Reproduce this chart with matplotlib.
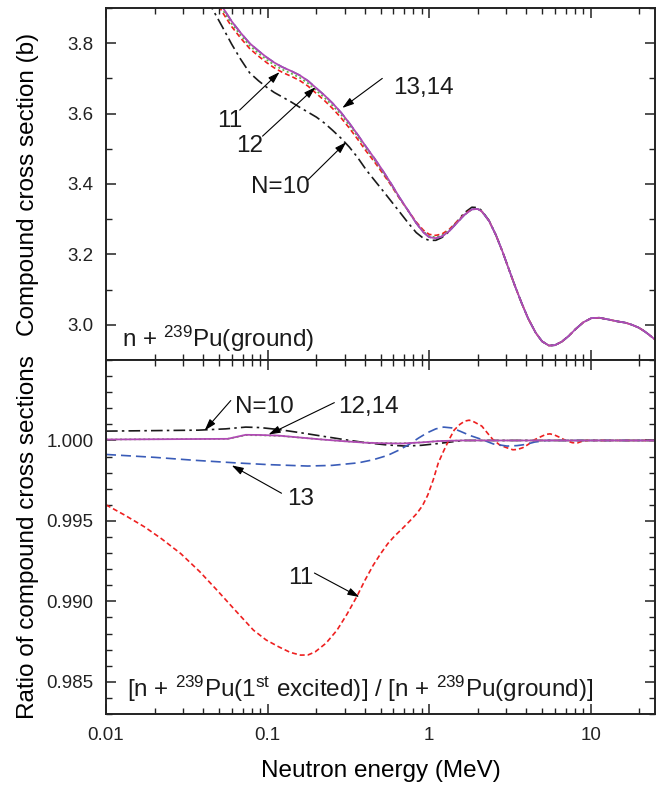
import matplotlib
matplotlib.use("Agg")
import matplotlib.pyplot as plt
from matplotlib.ticker import FixedLocator, MultipleLocator, FormatStrFormatter, NullFormatter, LogLocator
import numpy as np

plt.rcParams['font.family'] = ['Liberation Sans', 'DejaVu Sans']
plt.rcParams['mathtext.fontset'] = 'custom'
plt.rcParams['mathtext.rm'] = 'Liberation Sans'
plt.rcParams['mathtext.it'] = 'Liberation Sans:italic'
plt.rcParams['mathtext.bf'] = 'Liberation Sans:bold'

# ---------------- data: top panel (compound cross section, b) ----------------
E_top = [0.045, 0.0527, 0.060, 0.068, 0.0774, 0.088, 0.0986, 0.11, 0.1236, 0.14,
         0.158, 0.178, 0.2006, 0.225, 0.252, 0.285, 0.3205, 0.36, 0.408, 0.46,
         0.513, 0.58, 0.653, 0.74, 0.832, 0.92, 1.0, 1.1, 1.2, 1.33,
         1.47, 1.65, 1.84, 2.0, 2.12, 2.35, 2.59, 2.85, 3.12, 3.4,
         3.75, 4.1, 4.57, 5.0, 5.51, 6.0, 6.62, 7.3, 8.07, 9.0,
         10.1, 11.3, 12.9, 14.5, 16.4, 18.0, 19.8, 21.3, 22.8, 25.0]
sig14 = [3.960, 3.902, 3.862, 3.830, 3.800, 3.778, 3.760, 3.745, 3.732, 3.721,
         3.709, 3.693, 3.672, 3.652, 3.630, 3.603, 3.573, 3.541, 3.505, 3.472,
         3.440, 3.402, 3.363, 3.325, 3.289, 3.263, 3.249, 3.246, 3.251, 3.266,
         3.287, 3.312, 3.328, 3.329, 3.322, 3.295, 3.255, 3.207, 3.157, 3.110,
         3.060, 3.018, 2.977, 2.953, 2.941, 2.942, 2.952, 2.968, 2.988, 3.007,
         3.019, 3.020, 3.015, 3.010, 3.006, 3.000, 2.992, 2.983, 2.973, 2.958]
sig13 = [3.960, 3.902, 3.862, 3.830, 3.800, 3.778, 3.760, 3.745, 3.732, 3.721,
         3.709, 3.693, 3.672, 3.652, 3.630, 3.603, 3.573, 3.541, 3.505, 3.472,
         3.440, 3.402, 3.363, 3.325, 3.289, 3.263, 3.249, 3.246, 3.251, 3.266,
         3.287, 3.312, 3.328, 3.329, 3.322, 3.295, 3.255, 3.207, 3.157, 3.110,
         3.060, 3.018, 2.977, 2.953, 2.941, 2.942, 2.952, 2.968, 2.988, 3.007,
         3.019, 3.020, 3.015, 3.010, 3.006, 3.000, 2.992, 2.983, 2.973, 2.958]
sig12 = [3.953, 3.895, 3.855, 3.823, 3.793, 3.771, 3.753, 3.738, 3.725, 3.714,
         3.702, 3.686, 3.665, 3.645, 3.623, 3.597, 3.567, 3.536, 3.500, 3.468,
         3.436, 3.399, 3.361, 3.324, 3.289, 3.265, 3.252, 3.249, 3.254, 3.268,
         3.288, 3.312, 3.328, 3.329, 3.322, 3.295, 3.255, 3.207, 3.157, 3.110,
         3.060, 3.018, 2.977, 2.953, 2.941, 2.942, 2.952, 2.968, 2.988, 3.007,
         3.019, 3.020, 3.015, 3.010, 3.006, 3.000, 2.992, 2.983, 2.973, 2.958]
sig11 = [3.945, 3.887, 3.847, 3.815, 3.785, 3.763, 3.745, 3.730, 3.717, 3.706,
         3.694, 3.678, 3.657, 3.637, 3.615, 3.588, 3.559, 3.528, 3.493, 3.462,
         3.432, 3.397, 3.360, 3.325, 3.292, 3.269, 3.257, 3.254, 3.258, 3.271,
         3.291, 3.314, 3.329, 3.329, 3.322, 3.295, 3.255, 3.207, 3.157, 3.110,
         3.060, 3.018, 2.977, 2.953, 2.941, 2.942, 2.952, 2.968, 2.988, 3.007,
         3.019, 3.020, 3.015, 3.010, 3.006, 3.000, 2.992, 2.983, 2.973, 2.958]
E_top10 = [0.040, 0.045, 0.0527, 0.060, 0.068, 0.0774, 0.088, 0.0986, 0.11, 0.1236,
           0.14, 0.158, 0.178, 0.2006, 0.225, 0.252, 0.285, 0.3205, 0.36, 0.408,
           0.46, 0.513, 0.58, 0.653, 0.74, 0.832, 0.92, 1.0, 1.1, 1.2,
           1.33, 1.47, 1.65, 1.84, 2.0, 2.12, 2.35, 2.59, 2.85, 3.12,
           3.4, 3.75, 4.1, 4.57, 5.0, 5.51, 6.0, 6.62, 7.3, 8.07,
           9.0, 10.1, 11.3, 12.9, 14.5, 16.4, 18.0, 19.8, 21.3, 22.8, 25.0]
sig10 = [3.950, 3.902, 3.845, 3.797, 3.755, 3.716, 3.693, 3.675, 3.660, 3.647,
         3.633, 3.618, 3.604, 3.590, 3.573, 3.553, 3.530, 3.505, 3.476, 3.440,
         3.410, 3.383, 3.352, 3.322, 3.290, 3.262, 3.246, 3.240, 3.240, 3.248,
         3.265, 3.290, 3.318, 3.334, 3.333, 3.324, 3.296, 3.255, 3.207, 3.157,
         3.110, 3.060, 3.018, 2.977, 2.953, 2.941, 2.942, 2.952, 2.968, 2.988,
         3.007, 3.019, 3.020, 3.015, 3.010, 3.006, 3.000, 2.992, 2.983, 2.973, 2.958]

# ---------------- data: bottom panel (ratio excited / ground) ----------------
E_r10 = [0.01, 0.0374, 0.055, 0.0733, 0.09, 0.117, 0.16, 0.217, 0.3, 0.405,
         0.55, 0.714, 0.9, 1.14, 1.63, 25.0]
r10 = [1.00058, 1.00064, 1.00072, 1.00083, 1.00080, 1.00068, 1.00048, 1.00027, 1.00005, 0.99986,
       0.99972, 0.99965, 0.99970, 0.99981, 1.0, 1.0]

E_r14 = [0.01, 0.0566, 0.0733, 0.09, 0.117, 0.217, 0.3, 0.405, 0.5, 0.68, 0.9, 1.14, 1.6, 25.0]
r14 = [1.00006, 1.0001, 1.00035, 1.00034, 1.0003, 1.00006, 0.99995, 0.99986, 0.99983, 0.99981,
       0.99988, 0.99996, 1.0, 1.0]
r12 = [1.00006, 1.0001, 1.00033, 1.00032, 1.00029, 1.00006, 0.99995, 0.99987, 0.99984, 0.99982,
       0.99988, 0.99996, 1.0, 1.0]

E_r13 = [0.01, 0.02, 0.035, 0.0628, 0.1, 0.177, 0.25, 0.365, 0.45, 0.553,
         0.65, 0.75, 0.86, 0.975, 1.1, 1.23, 1.38, 1.55, 1.8, 2.12,
         2.5, 3.04, 3.5, 3.95, 4.5, 5.37, 25.0]
r13 = [0.99913, 0.99895, 0.99877, 0.99861, 0.99850, 0.99841, 0.99845, 0.99861, 0.99880, 0.99907,
       0.99940, 0.99975, 1.00015, 1.00048, 1.00072, 1.00083, 1.00078, 1.00058, 1.00030, 1.00006,
       0.99978, 0.99965, 0.99968, 0.99975, 0.99990, 1.0, 1.0]

E_r11 = [0.01, 0.013, 0.0173, 0.022, 0.029, 0.038, 0.0487, 0.063, 0.0818, 0.098,
         0.1175, 0.138, 0.160, 0.178, 0.197, 0.23, 0.269, 0.31, 0.356, 0.40,
         0.451, 0.50, 0.555, 0.61, 0.682, 0.76, 0.839, 0.91, 0.98, 1.06,
         1.14, 1.23, 1.33, 1.43, 1.55, 1.66, 1.77, 1.9, 2.12, 2.3,
         2.48, 2.75, 3.04, 3.3, 3.52, 3.8, 4.1, 4.5, 5.0, 5.3,
         5.6, 6.0, 6.5, 7.0, 7.7, 8.3, 8.9, 9.5, 11.0, 25.0]
r11 = [0.99600, 0.99537, 0.99463, 0.99390, 0.99297, 0.99185, 0.99069, 0.98945, 0.98821, 0.98760,
       0.98717, 0.98683, 0.98666, 0.98667, 0.98686, 0.98740, 0.98821, 0.98920, 0.99028, 0.99130,
       0.99225, 0.99295, 0.99359, 0.99405, 0.99452, 0.99500, 0.99546, 0.99595, 0.99660, 0.99755,
       0.99861, 0.99935, 1.00006, 1.00065, 1.00100, 1.00120, 1.00126, 1.00115, 1.00089, 1.00045,
       1.00006, 0.99970, 0.99954, 0.99942, 0.99944, 0.99955, 0.99975, 1.00005, 1.00027, 1.00038,
       1.00041, 1.00033, 1.00017, 1.00000, 0.99986, 0.99985, 0.99996, 1.0, 1.0, 1.0]

xticks = [0.01, 0.1, 1, 10]
xtick_labels = ['0.01', '0.1', '1', '10']

# ---------------- styles ----------------
c10, c11, c12, c13, c14 = '#1a1a1a', '#ee2020', '#5cb83c', '#3a5cb8', '#b04ab4'
TICK_FS = 13.5
ANN_FS = 17.5
LAB_FS = 17.5

fig = plt.figure(figsize=(6.62, 7.89), dpi=100)
L, R = 106 / 662, 655 / 662
ax1 = fig.add_axes([L, 1 - 360 / 789, R - L, 352 / 789])
ax2 = fig.add_axes([L, 1 - 714 / 789, R - L, 354 / 789])


def style(ax):
    ax.set_xscale('log')
    ax.set_xlim(0.01, 25)
    for s in ax.spines.values():
        s.set_linewidth(1.4)
        s.set_color('#222222')
    ax.tick_params(which='both', direction='in', top=True, right=True, colors='#222222',
                   labelsize=TICK_FS, labelcolor='#222222', pad=9)
    ax.tick_params(which='major', length=7, width=1.1)
    ax.tick_params(which='minor', length=4.5, width=1.0)
    ax.xaxis.set_major_locator(FixedLocator(xticks))
    ax.xaxis.set_minor_locator(LogLocator(base=10, subs=np.arange(2, 10), numticks=20))
    ax.xaxis.set_minor_formatter(NullFormatter())


style(ax1)
style(ax2)

lw = 1.2
# top panel
ax1.plot(E_top10, sig10, color=c10, lw=lw, dashes=(7, 2.5, 1.5, 2.5))
ax1.plot(E_top, sig11, color=c11, lw=lw, dashes=(3, 1.8))
ax1.plot(E_top, sig12, color=c12, lw=lw, dashes=(1.2, 1.6))
ax1.plot(E_top, sig13, color=c13, lw=lw, dashes=(6, 3))
ax1.plot(E_top, sig14, color=c14, lw=1.3)
ax1.set_ylim(2.9, 3.9)
ax1.yaxis.set_major_locator(FixedLocator([3.0, 3.2, 3.4, 3.6, 3.8]))
ax1.yaxis.set_minor_locator(MultipleLocator(0.1))
ax1.yaxis.set_major_formatter(FormatStrFormatter('%.1f'))
ax1.tick_params(axis='x', labelbottom=False)
ax1.set_ylabel('Compound cross section (b)', fontsize=LAB_FS)

# bottom panel
ax2.plot(E_r10, r10, color=c10, lw=lw, dashes=(7, 2.5, 1.5, 2.5))
ax2.plot(E_r11, r11, color=c11, lw=lw, dashes=(3, 1.8))
ax2.plot(E_r13, r13, color=c13, lw=lw, dashes=(6, 3))
ax2.plot(E_r14, r12, color=c12, lw=lw, dashes=(1.2, 1.6))
ax2.plot(E_r14, r14, color=c14, lw=1.3)
ax2.set_ylim(0.983, 1.005)
ax2.yaxis.set_major_locator(FixedLocator([0.985, 0.990, 0.995, 1.000]))
ax2.yaxis.set_minor_locator(MultipleLocator(0.001))
ax2.yaxis.set_major_formatter(FormatStrFormatter('%.3f'))
ax2.set_xticklabels(xtick_labels)
ax2.set_xlabel('Neutron energy (MeV)', fontsize=LAB_FS, labelpad=12)
ax2.set_ylabel('Ratio of compound cross sections', fontsize=LAB_FS)
ax1.yaxis.set_label_coords(-0.122, 0.5)
ax2.yaxis.set_label_coords(-0.122, 0.5)

arrow = dict(arrowstyle='-|>,head_length=0.7,head_width=0.22', color='black', lw=0.8,
             shrinkA=0, shrinkB=0)


def ann(ax, text, xy, tail, txy, ha='center'):
    ax.annotate('', xy=xy, xytext=tail, arrowprops=arrow)
    ax.text(txy[0], txy[1], text, fontsize=ANN_FS, ha=ha, va='center', color='#1a1a1a')


# top annotations
ann(ax1, '13,14', (0.290, 3.616), (0.513, 3.700), (0.60, 3.672), ha='left')
ann(ax1, '11', (0.1186, 3.718), (0.0672, 3.610), (0.0582, 3.579))
ann(ax1, '12', (0.198, 3.675), (0.0931, 3.536), (0.0774, 3.508))
ann(ax1, 'N=10', (0.307, 3.519), (0.177, 3.411), (0.120, 3.391))

# bottom annotations
ann(ax2, 'N=10', (0.0408, 1.00062), (0.0592, 1.00248), (0.0958, 1.00211))
ann(ax2, '12,14', (0.1014, 1.00037), (0.259, 1.00235), (0.4217, 1.00211))
ann(ax2, '13', (0.060, 0.99845), (0.122, 0.99672), (0.160, 0.99634))
ann(ax2, '11', (0.370, 0.99027), (0.195, 0.99176), (0.160, 0.99145))

ax1.text(0.029, 0.037, r'n + $^{239}$Pu(ground)', transform=ax1.transAxes,
         fontsize=ANN_FS, ha='left', va='baseline', color='#1a1a1a')
ax2.text(0.463, 0.048, r'[n + $^{239}$Pu(1$^{\rm st}$ excited)] / [n + $^{239}$Pu(ground)]',
         transform=ax2.transAxes, fontsize=ANN_FS, ha='center', va='baseline', color='#1a1a1a')

fig.savefig('out.png', dpi=100)
